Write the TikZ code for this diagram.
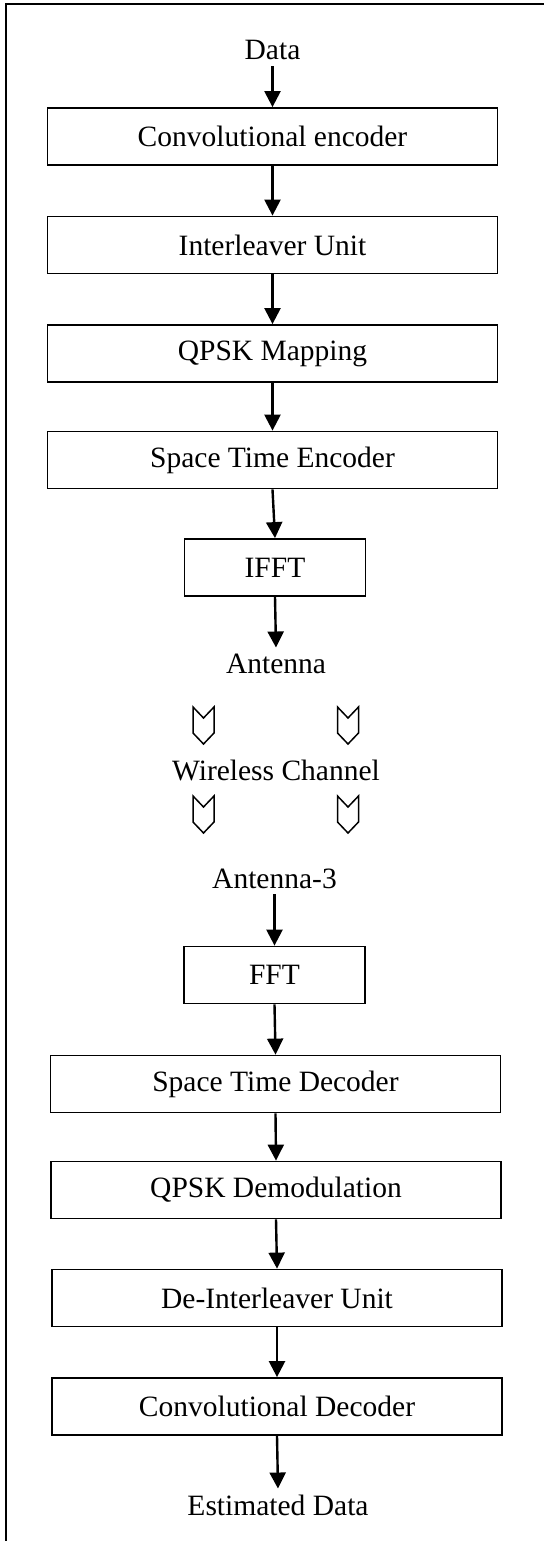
\documentclass[tikz,border=0pt]{standalone}
\usepackage{fontspec}
\setmainfont{Liberation Serif}
\usetikzlibrary{arrows.meta}

\begin{document}
\begin{tikzpicture}[x=1pt,y=-1pt,
  font=\fontsize{29.5}{34}\selectfont,
  blockbox/.style={draw, line width=1.8pt, minimum height=57pt, inner sep=0pt},
  widebox/.style={blockbox, minimum width=450pt},
  narrowbox/.style={blockbox, minimum width=181pt},
  label/.style={inner sep=0pt, outer sep=6pt},
  flow/.style={line width=2.4pt, -{Triangle[length=16pt,width=16pt]}},
  chev/.pic={\draw[line width=1.5pt, line join=miter]
     (-10.5,0) -- (0,11) -- (10.5,0) -- (10.5,26) -- (0,37) -- (-10.5,26) -- cycle;}
]
\useasboundingbox (0,0) rectangle (544,1541);

% frame: top and left edges only
\draw[line width=2pt] (5.5,1541) -- (5.5,4.5) -- (544,4.5);

% transmitter chain
\node[label, anchor=base] (data) at (272.5,60) {Data};
\node[widebox] (conv) at (272.5,136.5) {Convolutional encoder};
\node[widebox] (intl) at (272.5,245) {Interleaver Unit};
\node[widebox] (qpsk) at (272.5,353.5) {QPSK Mapping};
\node[widebox] (stenc) at (272.5,460) {Space Time Encoder};
\node[narrowbox] (ifft) at (275,567.5) {IFFT};
\node[label, anchor=base] (ant) at (276,673) {Antenna};

% wireless channel
\pic at (203.5,707) {chev};
\pic at (348,707) {chev};
\node[label, anchor=base] (chan) at (276,780) {Wireless Channel};
\pic at (203.5,796) {chev};
\pic at (348,796) {chev};

% receiver chain
\node[label, anchor=base] (ant3) at (274.5,888) {Antenna-3};
\node[narrowbox] (fft) at (274.5,975) {FFT};
\node[widebox] (stdec) at (275.5,1084) {Space Time Decoder};
\node[widebox] (qdem) at (276,1190) {QPSK Demodulation};
\node[widebox] (deint) at (277,1298) {De-Interleaver Unit};
\node[widebox] (cdec) at (277,1406.5) {Convolutional Decoder};
\node[label, anchor=base] (est) at (278,1515) {Estimated Data};

% connectors
\draw[flow] (data.south) -- (conv.north);
\draw[flow] (conv.south) -- (intl.north);
\draw[flow] (intl.south) -- (qpsk.north);
\draw[flow] (qpsk.south) -- (stenc.north);
\draw[flow] (stenc.south) -- (ifft.north);
\draw[flow] (ifft.south) -- (ant.north);
\draw[flow] (ant3.south) -- (fft.north);
\draw[flow] (fft.south) -- (stdec.north);
\draw[flow] (stdec.south) -- (qdem.north);
\draw[flow] (qdem.south) -- (deint.north);
\draw[flow] (deint.south) -- (cdec.north);
\draw[flow] (cdec.south) -- (est.north);
\end{tikzpicture}
\end{document}
